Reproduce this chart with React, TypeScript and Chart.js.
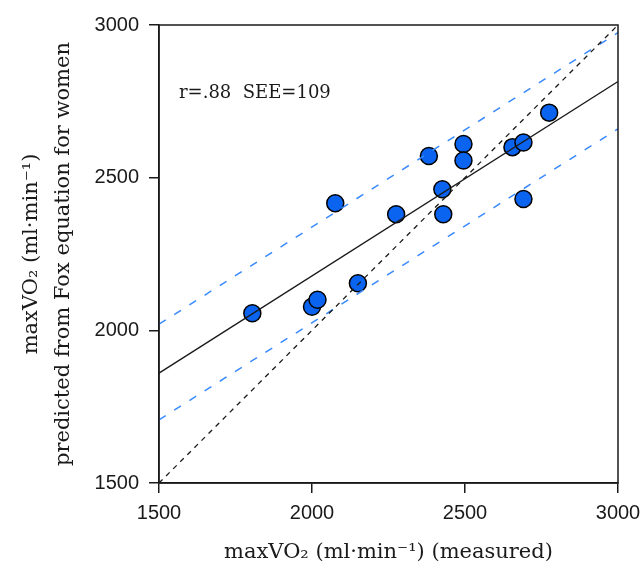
import React, { useEffect, useRef } from 'react';
import { Chart, registerables } from 'chart.js';

Chart.register(...registerables);

// measured maxVO2 (x) and predicted maxVO2 (y)
const measured = [1805, 2000, 2018, 2150, 2076, 2275, 2429, 2426, 2382, 2495, 2495, 2655, 2691, 2691, 2775];
const predicted = [2056, 2077, 2100, 2154, 2416, 2380, 2380, 2462, 2571, 2610, 2556, 2600, 2615, 2430, 2713];

// line end points
const lineX = [1500, 3000];
const regressionY = [1860, 2815];
const upperY = [2020, 2975];
const lowerY = [1707, 2660];
const identityY = [1500, 3000];

const tickValues = [1500, 2000, 2500, 3000];
const tickLabels = ['1500', '2000', '2500', '3000'];
const statsLabel = 'r=.88  SEE=109';
const xTitle = 'maxVO₂ (ml·min⁻¹) (measured)';
const yTitle = ['maxVO₂ (ml·min⁻¹)', 'predicted from Fox equation for women'];

const ink = '#1a1a1a';
const pointBlue = '#0a64f0';
const dashBlue = '#3a8aff';

function linePts(ys: number[]) {
  return lineX.map((x, i) => ({ x, y: ys[i] }));
}

const framePlugin = {
  id: 'frame',
  afterDatasetsDraw(chart: any) {
    const { ctx, chartArea } = chart;
    const { left, top, right, bottom } = chartArea;
    ctx.save();
    ctx.strokeStyle = ink;
    ctx.lineWidth = 1.5;
    ctx.strokeRect(left, top, right - left, bottom - top);
    ctx.fillStyle = ink;
    ctx.font = '18px "DejaVu Serif"';
    ctx.textBaseline = 'middle';
    ctx.textAlign = 'left';
    ctx.fillText(statsLabel, left + 20, top + 68);
    ctx.restore();
  },
};

export default function App() {
  const ref = useRef<HTMLCanvasElement | null>(null);
  useEffect(() => {
    document.body.style.margin = '0';
    const canvas = ref.current;
    if (!canvas) return;
    const fixTicks = (s: any) => {
      s.ticks = tickValues.map((v) => ({ value: v }));
    };
    const fmt = (v: any) => {
      const i = tickValues.indexOf(Number(v));
      return i >= 0 ? tickLabels[i] : '';
    };
    const axisCommon = {
      type: 'linear' as const,
      min: 1500,
      max: 3000,
      afterBuildTicks: fixTicks,
      border: { display: true, color: ink, width: 1.5 },
      grid: { drawOnChartArea: false, drawTicks: true, tickLength: 10, color: ink, lineWidth: 1.5 },
    };
    const chart = new Chart(canvas, {
      type: 'scatter',
      data: {
        datasets: [
          {
            type: 'line',
            data: linePts(regressionY),
            borderColor: ink,
            borderWidth: 1.3,
            pointRadius: 0,
            fill: false,
          },
          {
            type: 'line',
            data: linePts(identityY),
            borderColor: ink,
            borderWidth: 1.3,
            borderDash: [5, 5],
            pointRadius: 0,
            fill: false,
          },
          {
            type: 'line',
            data: linePts(upperY),
            borderColor: dashBlue,
            borderWidth: 1.5,
            borderDash: [8, 10],
            pointRadius: 0,
            fill: false,
          },
          {
            type: 'line',
            data: linePts(lowerY),
            borderColor: dashBlue,
            borderWidth: 1.5,
            borderDash: [8, 10],
            pointRadius: 0,
            fill: false,
          },
          {
            type: 'scatter',
            data: measured.map((x, i) => ({ x, y: predicted[i] })),
            backgroundColor: pointBlue,
            borderColor: '#000',
            borderWidth: 1.5,
            pointRadius: 8.5,
            pointHoverRadius: 8.5,
          },
        ],
      } as any,
      options: {
        animation: false,
        responsive: false,
        events: [],
        layout: { padding: { left: 0, right: 22, top: 25, bottom: 0 } },
        plugins: { legend: { display: false }, tooltip: { enabled: false } },
        scales: {
          x: {
            ...axisCommon,
            position: 'bottom',
            afterFit: (s: any) => {
              s.height = 95;
              s.paddingLeft = 0;
              s.paddingRight = 0;
            },
            ticks: { color: ink, padding: 8, callback: fmt, font: { family: 'Liberation Sans', size: 20 } },
            title: {
              display: true,
              text: xTitle,
              color: ink,
              padding: { top: 0, bottom: 13 },
              font: { family: 'DejaVu Serif', size: 21, lineHeight: 1.2 },
            },
          },
          y: {
            ...axisCommon,
            position: 'left',
            afterFit: (s: any) => {
              s.width = 159;
              s.paddingTop = 0;
              s.paddingBottom = 0;
            },
            ticks: { color: ink, padding: 10, callback: fmt, font: { family: 'Liberation Sans', size: 20 } },
            title: {
              display: true,
              text: yTitle,
              color: ink,
              padding: { top: 16, bottom: 0 },
              font: { family: 'DejaVu Serif', size: 21, lineHeight: 1.5 },
            },
          },
        },
      } as any,
      plugins: [framePlugin],
    });
    return () => chart.destroy();
  }, []);
  return (
    <div style={{ width: 640, height: 578 }}>
      <canvas ref={ref} width={640} height={578} style={{ display: 'block' }} />
    </div>
  );
}
